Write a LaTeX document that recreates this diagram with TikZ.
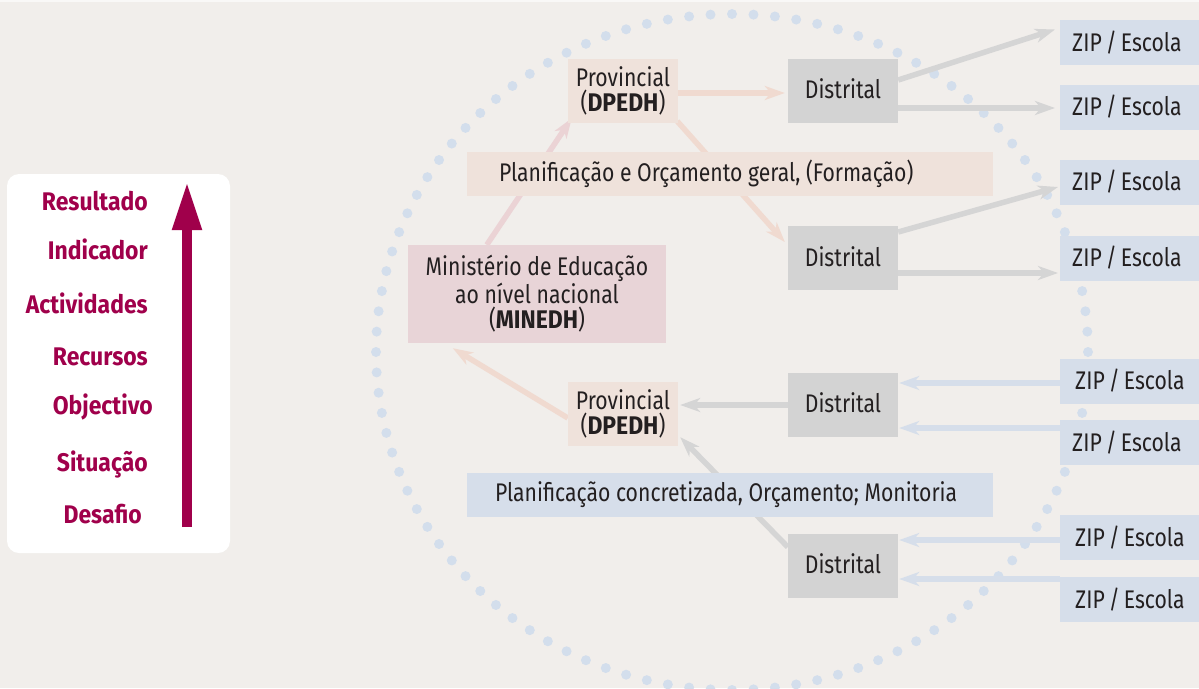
\documentclass[tikz,border=0pt]{standalone}
\usepackage{fontspec}
\setmainfont{Fira Sans}[FakeStretch=0.83, BoldFeatures={FakeStretch=0.9}]
\usetikzlibrary{arrows.meta,calc}
\definecolor{bgc}{RGB}{241,238,235}
\definecolor{peach}{RGB}{239,226,219}
\definecolor{pinkb}{RGB}{232,212,215}
\definecolor{grayb}{RGB}{211,211,211}
\definecolor{blueb}{RGB}{214,222,234}
\definecolor{dotc}{RGB}{211,222,236}
\definecolor{maroon}{RGB}{160,0,75}
\definecolor{txt}{RGB}{35,31,32}
\definecolor{arrpink}{RGB}{235,211,213}
\definecolor{arrpeach}{RGB}{240,218,208}
\definecolor{arrgray}{RGB}{213,213,213}
\definecolor{arrblue}{RGB}{214,222,234}
\newcommand{\zipesc}{\raisebox{1.5pt}{ZIP\hspace{4pt}/\hspace{4pt}Escola}}
\pgfdeclarelayer{back}
\pgfdeclarelayer{mid}
\pgfsetlayers{back,mid,main}
\begin{document}
\begin{tikzpicture}[x=1pt,y=-1pt,
  every node/.style={font=\fontsize{25.5}{25.5}\selectfont, text=txt},
  box/.style={rectangle, inner sep=0pt, align=center},
  smallbox/.style={box, minimum width=110pt, minimum height=64pt},
  zipbox/.style={rectangle, fill=blueb, anchor=west, inner xsep=12pt, inner ysep=0pt, text width=127pt, align=left, minimum height=45pt},
  lab/.style={anchor=base east, inner sep=0pt, text=maroon, font=\fontsize{25.5}{25.5}\selectfont\bfseries},
  arrbase/.style={line width=5.5pt, -{Stealth[length=20pt,width=14pt,inset=6pt]}},
  arrP/.style={arrbase, draw=arrpink},
  arrQ/.style={arrbase, draw=arrpeach},
  arrG/.style={arrbase, draw=arrgray},
  arrB/.style={arrbase, draw=arrblue}]
\useasboundingbox (0,0) rectangle (1199,688);
\begin{pgfonlayer}{back}
\fill[bgc] (0,0) rectangle (1199,688);
\fill[white!60!bgc] (0,0) rectangle (1199,1.5);
\foreach \i in {0,...,103}{
  \pgfmathsetmacro{\ang}{90+\i*3.461538}
  \pgfmathsetmacro{\px}{732+356*cos(\ang)}
  \pgfmathsetmacro{\py}{352-338*sin(\ang)}
  \fill[dotc] (\px pt,-\py pt) circle[radius=5pt];
}
\end{pgfonlayer}

% left legend panel
\node[rectangle, fill=white, rounded corners=12pt, minimum width=223pt, minimum height=379pt, inner sep=0pt] (panel) at (118.5,363.5) {};
\node[lab] (l1) at (148,210) {Resultado};
\node[lab] (l2) at (148,259) {Indicador};
\node[lab] (l3) at (148,313) {Actividades};
\node[lab] (l4) at (148,365) {Recursos};
\node[lab] (l5) at (153,414) {Objectivo};
\node[lab] (l6) at (148,471) {Situação};
\node[lab] (l7) at (142,523) {Desafio};
\coordinate (aB) at (187,527);
\coordinate (aT) at (187,181);
\draw[maroon, line width=10.5pt, -{Triangle[length=49pt,width=27pt]}] (aB) -- (aT);

% main boxes
\node[smallbox, fill=peach] (provT) at (623,91) {Provincial\\(\textbf{DPEDH})};
\node[box, fill=peach, minimum height=44pt] (planT) at (730,174) {\makebox[526pt][l]{\hspace*{32pt}Planificação e Orçamento geral, (Formação)}};
\node[box, fill=pinkb, minimum width=258pt, minimum height=98pt] (min) at (537,294) {Ministério de Educação\\ao nível nacional\\(\textbf{MINEDH})};
\node[smallbox, fill=grayb] (distA) at (843,91) {\raisebox{4.5pt}{Distrital}};
\node[smallbox, fill=grayb] (distB) at (843,258) {\raisebox{2.5pt}{Distrital}};
\node[smallbox, fill=grayb] (distC) at (843,405) {\raisebox{5pt}{Distrital}};
\node[smallbox, fill=grayb] (distD) at (843,566) {\raisebox{5pt}{Distrital}};
\node[smallbox, fill=peach] (provB) at (623,414) {Provincial\\(\textbf{DPEDH})};
\node[box, fill=blueb, minimum height=44pt] (planB) at (730,495) {\makebox[526pt][l]{\hspace*{28pt}Planificação concretizada, Orçamento; Monitoria}};

\node[zipbox] (zip1) at (1060,42.5) {\zipesc};
\node[zipbox] (zip2) at (1060,107) {\zipesc};
\node[zipbox] (zip3) at (1060,182) {\zipesc};
\node[zipbox] (zip4) at (1060,258) {\zipesc};
\node[zipbox] (zip5) at (1060,381) {\hspace*{3pt}\zipesc};
\node[zipbox] (zip6) at (1060,442.5) {\zipesc};
\node[zipbox] (zip7) at (1060,537.5) {\hspace*{3pt}\zipesc};
\node[zipbox] (zip8) at (1060,599.5) {\hspace*{3pt}\zipesc};

% connectors
\begin{pgfonlayer}{mid}
\draw[arrP] ($(min.north west)+(79,0)$) -- ($(provT.south west)+(4,-5)$);
\draw[arrQ] ($(provT.east)+(0,2)$) -- ($(distA.west)+(-3,2)$);
\draw[arrQ] ($(provT.south east)+(-1,-2)$) -- ($(distB.west)+(-3,-16)$);
\draw[arrG] ($(distA.east)+(0,-11)$) -- ($(zip1.west)+(-5,-13)$);
\draw[arrG] ($(distA.east)+(0,17)$) -- ($(zip2.west)+(-5,1)$);
\draw[arrG] ($(distB.east)+(0,-26)$) -- ($(zip3.west)+(-2,5)$);
\draw[arrG] ($(distB.east)+(0,15)$) -- ($(zip4.west)+(-2,15)$);
\draw[arrB] ($(zip5.west)+(0,2)$) -- ($(distC.east)+(1,-22)$);
\draw[arrB] ($(zip6.west)+(0,-14.5)$) -- ($(distC.east)+(1,23)$);
\draw[arrB] ($(zip7.west)+(0,2.5)$) -- ($(distD.east)+(1,-26)$);
\draw[arrB] ($(zip8.west)+(0,-20.5)$) -- ($(distD.east)+(1,13)$);
\draw[arrG] (distC.west) -- ($(provB.east)+(2,-9)$);
\draw[arrG] ($(distD.west)+(0,-19)$) -- ($(provB.south east)+(2,-9)$);
\draw[arrQ] ($(provB.west)+(0,4)$) -- ($(min.south west)+(45,5)$);
\end{pgfonlayer}
\end{tikzpicture}
\end{document}
